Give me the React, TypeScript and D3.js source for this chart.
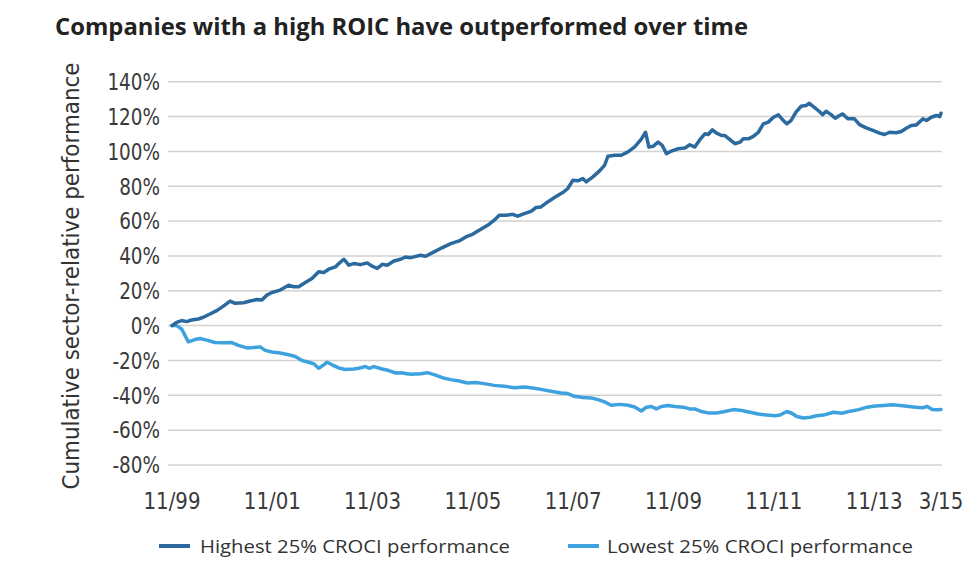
import React from "react";
import * as d3 from "d3";

const titleText = "Companies with a high ROIC have outperformed over time";
const yAxisTitle = "Cumulative sector-relative performance";
const seriesNames = ["Highest 25% CROCI performance", "Lowest 25% CROCI performance"];

// months since Nov 1999
const highMonths = [0, 1.1, 2.3, 3.5, 4.7, 6.3, 7.5, 9.1, 10.7, 12.3, 13.9, 15.1, 17.1, 18.7, 20.3, 21.5, 22.7, 23.9, 25.9, 27.9, 29.1, 30.3, 31.9, 33.5, 35.1, 36.3, 37.5, 39.1, 39.9, 41.1, 42.3, 43.5, 45.1, 46.7, 47.9, 49.1, 50.3, 51.5, 53.1, 54.7, 55.9, 57.1, 59.5, 60.7, 62.7, 64.7, 66.7, 68.7, 70.3, 71.9, 73.9, 75.9, 77.1, 78.3, 79.9, 81.5, 82.7, 84.3, 85.9, 87.1, 88.3, 89.9, 91.5, 93.5, 94.7, 95.9, 97.1, 98.3, 99.1, 100.7, 102.3, 103.5, 104.3, 105.9, 107.5, 109.1, 110.7, 112.3, 113.3, 114.1, 115.1, 116.3, 117.3, 118.3, 119.5, 121.1, 122.7, 123.9, 125.1, 126.3, 127.5, 128.3, 129.3, 130.3, 131.5, 132.3, 133.5, 134.7, 135.9, 136.7, 137.9, 139.1, 140.3, 141.5, 142.7, 143.9, 145.1, 146.3, 147.1, 148.1, 149.3, 150.5, 151.7, 152.5, 153.7, 154.9, 155.7, 156.5, 157.7, 158.7, 159.7, 160.5, 161.7, 163.3, 164.5, 166.1, 167.7, 169.3, 170.5, 171.7, 173.3, 174.5, 175.7, 176.9, 178.1, 179.7, 180.5, 181.7, 182.9, 183.7, 184];
const highValues = [0, 1.9, 2.9, 2.3, 3.2, 3.8, 4.8, 6.7, 8.6, 11.2, 14.1, 12.8, 13.1, 14.1, 15, 14.7, 17.5, 19, 20.4, 23.2, 22.3, 22.3, 24.8, 27, 30.9, 30.5, 32.4, 33.7, 35.6, 38.1, 34.7, 35.6, 35, 36, 34.1, 32.8, 35.2, 34.7, 37.1, 38.1, 39.4, 39, 40.4, 39.8, 42.3, 44.8, 47.1, 48.6, 50.9, 52.4, 55.3, 58.2, 60.5, 63.3, 63.3, 63.9, 62.8, 64.3, 65.6, 67.8, 68.1, 71, 73.5, 76.4, 78.7, 83.4, 83.1, 84.4, 82.5, 85.4, 88.8, 92, 97.2, 97.8, 97.8, 99.7, 102.6, 107, 111, 102.5, 102.9, 105.3, 103.4, 98.7, 100.2, 101.5, 101.9, 103.8, 102.5, 106.7, 110.1, 109.7, 112.4, 110.5, 109.1, 109.1, 106.7, 104.4, 105.3, 107.2, 107.2, 108.6, 111, 115.8, 116.8, 119.6, 121, 117.7, 115.8, 117.7, 122.5, 125.9, 126.3, 127.6, 125.3, 122.9, 121.1, 123, 121.1, 119, 120.6, 121.5, 118.7, 118.7, 115.4, 113.5, 112, 110.5, 109.7, 111, 110.7, 111.4, 113.3, 114.9, 115.2, 118.7, 117.7, 119.6, 120.6, 120, 121.9];

const lowMonths = [0, 1.1, 2.3, 3.9, 5.5, 6.7, 8.3, 10.3, 12.3, 14.3, 15.9, 17.9, 19.5, 21.1, 22.3, 23.9, 25.9, 27.9, 29.5, 31.1, 32.7, 33.9, 35.1, 36.3, 37.1, 38.3, 39.9, 41.5, 43.5, 44.7, 46.3, 47.1, 48.3, 50.3, 51.9, 53.5, 54.7, 57.1, 59.5, 61.1, 62.7, 64.7, 66.7, 68.7, 70.7, 72.7, 74.7, 77.1, 79.5, 81.9, 84.3, 86.3, 88.3, 90.7, 93.1, 94.7, 96.3, 98.3, 100.3, 101.9, 103.5, 105.1, 107.1, 109.1, 110.7, 112.3, 113.5, 114.7, 115.9, 117.1, 118.7, 120.3, 122.3, 123.9, 125.1, 126.7, 128.3, 130.3, 132.3, 134.3, 136.3, 138.3, 140.3, 142.3, 144.3, 145.5, 147.1, 148.3, 149.5, 151.1, 152.7, 154.3, 156.3, 158.3, 160.3, 162.3, 164.3, 166.3, 168.3, 170.3, 172.3, 174.3, 176.3, 177.9, 179.5, 180.7, 181.9, 183.1, 184];
const lowValues = [0, 0, -1.9, -9.3, -8, -7.4, -8.3, -9.7, -9.9, -9.7, -11.3, -12.8, -12.6, -12.2, -14.2, -15.1, -15.7, -16.7, -17.7, -20, -21, -21.9, -24.5, -22.5, -21, -22.5, -24.3, -25.2, -24.9, -24.5, -23.5, -24.5, -23.5, -24.9, -25.8, -27.2, -27, -27.9, -27.6, -27, -28.1, -29.9, -31, -31.8, -32.9, -32.7, -33.3, -34.3, -34.8, -35.6, -35.2, -35.8, -36.6, -37.7, -38.7, -39, -40.6, -41.3, -41.5, -42.5, -43.8, -45.7, -45.2, -45.7, -46.7, -49, -46.8, -46.4, -47.8, -46.4, -45.8, -46.4, -46.8, -47.8, -47.8, -49.3, -50.1, -50.1, -49.3, -48.2, -48.7, -49.7, -50.7, -51.3, -51.7, -51.3, -49.3, -50.3, -52.2, -53, -52.6, -51.7, -51.1, -49.7, -50.3, -49.1, -48.2, -46.8, -46.2, -45.8, -45.4, -45.8, -46.4, -46.8, -47.2, -46.4, -48.2, -48.3, -48.2];

const yTicks = [-80, -60, -40, -20, 0, 20, 40, 60, 80, 100, 120, 140];
const xTickMonths = [0, 24, 48, 72, 96, 120, 144, 168, 184];
const xTickLabels = ["11/99", "11/01", "11/03", "11/05", "11/07", "11/09", "11/11", "11/13", "3/15"];

const colors = ["#2b6a9e", "#3ea2de"];
const tickFont = "'DejaVu Sans', sans-serif";

export default function App() {
  const W = 980, H = 573;
  const x = d3.scaleLinear().domain([0, 184]).range([172, 941]);
  const y = d3.scaleLinear().domain([-80, 140]).range([465, 81.7]);
  const line = d3.line<[number, number]>().x(d => x(d[0])).y(d => y(d[1]));
  const highPts = highMonths.map((m, i) => [m, highValues[i]] as [number, number]);
  const lowPts = lowMonths.map((m, i) => [m, lowValues[i]] as [number, number]);

  return (
    <svg width={W} height={H} style={{ position: "absolute", left: 0, top: 0, background: "#fff" }}>
      <text x={55} y={35} fontFamily="'Open Sans', Lato, sans-serif" fontWeight={700} fontSize={23}
        fill="#222" textLength={693} lengthAdjust="spacingAndGlyphs">{titleText}</text>

      <text transform={`translate(79,276) rotate(-90)`} textAnchor="middle" fontFamily={tickFont}
        fontSize={23} fill="#333" textLength={427} lengthAdjust="spacingAndGlyphs">{yAxisTitle}</text>

      {yTicks.map(t => (
        <g key={t}>
          <line x1={168} x2={942} y1={y(t)} y2={y(t)} stroke="#d2d2d2" strokeWidth={1.5} />
          <text transform={`translate(160,${y(t)}) scale(0.8,1)`} dy="0.36em" textAnchor="end"
            fontFamily={tickFont} fontSize={23} fill="#3a3a3a">
            {`${t}%`}
          </text>
        </g>
      ))}

      {xTickMonths.map((m, i) => (
        <text key={m} transform={`translate(${x(m)},509) scale(0.86,1)`} textAnchor="middle"
          fontFamily={tickFont} fontSize={23} fill="#3a3a3a">
          {xTickLabels[i]}
        </text>
      ))}

      <path d={line(lowPts) || ""} fill="none" stroke={colors[1]} strokeWidth={3.5} strokeLinejoin="round" strokeLinecap="round" />
      <path d={line(highPts) || ""} fill="none" stroke={colors[0]} strokeWidth={3.5} strokeLinejoin="round" strokeLinecap="round" />

      <g>
        <line x1={159} x2={190} y1={546} y2={546} stroke={colors[0]} strokeWidth={4} />
        <text x={200} y={553} fontFamily="'Open Sans', sans-serif" fontSize={18} fill="#333"
          textLength={310} lengthAdjust="spacingAndGlyphs">{seriesNames[0]}</text>
        <line x1={568} x2={599} y1={546} y2={546} stroke={colors[1]} strokeWidth={4} />
        <text x={607} y={553} fontFamily="'Open Sans', sans-serif" fontSize={18} fill="#333"
          textLength={306} lengthAdjust="spacingAndGlyphs">{seriesNames[1]}</text>
      </g>
    </svg>
  );
}
